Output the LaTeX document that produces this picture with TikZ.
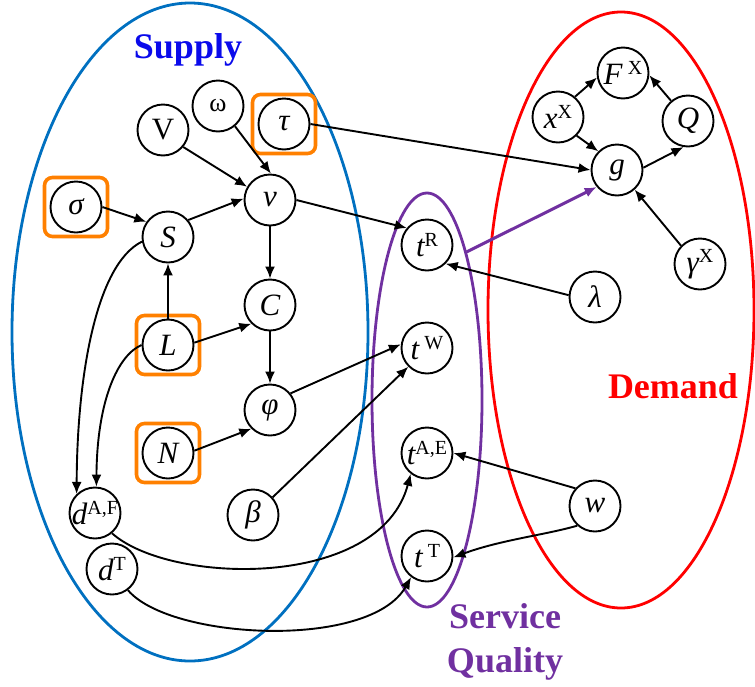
\documentclass[tikz,border=0pt]{standalone}
\usepackage{fontspec}
\setmainfont{Liberation Serif}
\usetikzlibrary{arrows.meta,shapes.geometric}
\definecolor{supc}{RGB}{0,112,192}
\definecolor{suptxt}{RGB}{10,10,235}
\definecolor{demc}{RGB}{255,0,0}
\definecolor{sqc}{RGB}{112,48,160}
\definecolor{orng}{RGB}{255,128,0}
\newcommand\zw[1]{\makebox[0pt]{#1}}
\newcommand\up[1]{\raisebox{10pt}{\fontsize{20}{20}\selectfont\upshape #1}}
\begin{document}
\begin{tikzpicture}[x=1pt,y=-1pt,
  nd/.style={circle,draw,line width=1.9pt,minimum size=51pt,inner sep=0pt,
    font=\fontsize{31}{31}\selectfont\itshape},
  obox/.style={draw=orng,line width=3.6pt,rounded corners=8pt,minimum width=63pt,
    minimum height=59pt,inner sep=0pt},
  grp/.style={ellipse,line width=2.8pt,inner sep=0pt},
  arr/.style={-{Latex[length=12pt,width=10pt]},line width=1.9pt},
  big/.style={font=\fontsize{36}{44}\selectfont\bfseries}]
\useasboundingbox (0,0) rectangle (755,686);
% groups
\node[grp,draw=supc,minimum width=356pt,minimum height=658pt] (supE) at (190,332) {};
\node[grp,draw=sqc,minimum width=110pt,minimum height=414pt] (sqE) at (427,400) {};
\node[grp,draw=demc,minimum width=266pt,minimum height=596pt] (demE) at (621,310) {};
% orange boxes
\node[obox] (tauB) at (284,124) {};
\node[obox] (sigB) at (76,207) {};
\node[obox] (LB) at (168,345) {};
\node[obox] (NB) at (168,453) {};
% nodes
\node[nd] (V) at (163,130) {\zw{\upshape V}};
\node[nd] (om) at (218,106) {\zw{\upshape\fontsize{26}{26}\selectfont ω}};
\node[nd] (tau) at (284,124) {\zw{τ}};
\node[nd] (sig) at (76,207) {\zw{σ}};
\node[nd] (S) at (168,237) {\zw{S}};
\node[nd] (v) at (270,200) {\zw{v}};
\node[nd] (C) at (270,305) {\zw{C}};
\node[nd] (L) at (168,345) {\zw{L}};
\node[nd] (phi) at (270,410) {\zw{φ}};
\node[nd] (N) at (168,453) {\zw{N}};
\node[nd] (beta) at (253,515) {\zw{β}};
\node[nd] (dAF) at (95,513) {\zw{d\up{A,F}}};
\node[nd] (dT) at (112,569) {\zw{d\up{T}}};
\node[nd] (tR) at (427,245) {\zw{t\up{R}}};
\node[nd] (tW) at (427,348) {\zw{t\,\up{W}}};
\node[nd] (tAE) at (427,453) {\zw{t\up{A,E}}};
\node[nd] (tT) at (427,556) {\zw{t\,\up{T}}};
\node[nd] (F) at (623,73) {\zw{F\,\up{X}}};
\node[nd] (xX) at (558,117) {\zw{x\up{X}}};
\node[nd] (Q) at (688,121) {\zw{Q}};
\node[nd] (g) at (617,170) {\zw{g}};
\node[nd] (gam) at (700,264) {\zw{γ\up{X}}};
\node[nd] (lam) at (595,297) {\zw{λ}};
\node[nd] (w) at (595,506) {\zw{w}};
% labels
\node[big,text=suptxt] (lsup) at (188,50) {Supply};
\node[big,text=demc] (ldem) at (673,386) {Demand};
\node[big,text=sqc,align=center] (lsq) at (505,642) {Service\\Quality};
% edges
\draw[arr] (V.-40) -- (v.150);
\draw[arr] (om.-50) -- (v.88);
\draw[arr] (tau.east) -- (g.west);
\draw[arr] (sig.east) -- (S.145);
\draw[arr] (S.40) -- (v.177);
\draw[arr] (v.south) -- (C.north);
\draw[arr] (v.east) -- (tR.140);
\draw[arr] (C.south) -- (phi.north);
\draw[arr] (L.north) -- (S.south);
\draw[arr] (L.5) -- (C.225);
\draw[arr] (N.5) -- (phi.225);
\draw[arr] (S.190) .. controls (95,265) and (77,380) .. (dAF.134);
\draw[arr] (L.180) .. controls (118,355) and (97,400) .. (dAF.87);
\draw[arr] (phi.39) -- (tW.172);
\draw[arr] (beta.42) -- (tW.225);
\draw[arr] (dAF.-50) .. controls (170,585) and (380,590) .. (tAE.232);
\draw[arr] (dT.-53) .. controls (170,640) and (370,650) .. (tT.233);
\draw[arr] (lam.176) -- (tR.-45);
\draw[arr] (w.138) -- (tAE.east);
\draw[arr] (w.228) .. controls (545,535) and (500,540) .. (tT.-3);
\draw[arr,draw=sqc,line width=3pt] (sqE.75) -- (g.220);
\draw[arr] (xX.50) -- (F.190);
\draw[arr] (xX.-45) -- (g.135);
\draw[arr] (Q.130) -- (F.-5);
\draw[arr] (g.5) -- (Q.-100);
\draw[arr] (gam.136) -- (g.-48);
\end{tikzpicture}
\end{document}
